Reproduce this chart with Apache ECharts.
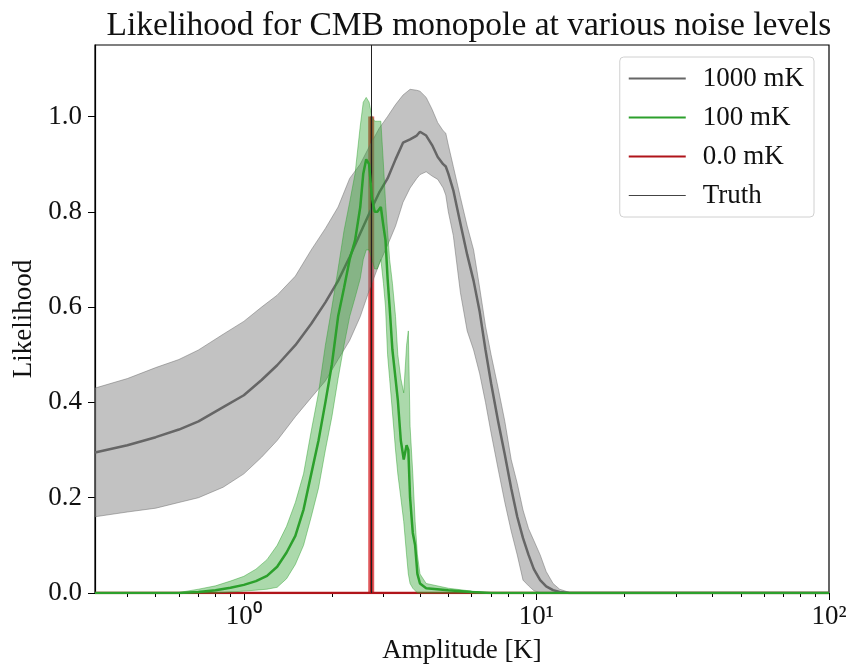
<!DOCTYPE html>
<html>
<head>
<meta charset="utf-8">
<script src="https://cdn.jsdelivr.net/npm/echarts@6/dist/echarts.min.js"></script>
<style>
  html, body { margin: 0; padding: 0; background: #fff; }
  #chart { width: 852px; height: 665px; }
</style>
</head>
<body>
<div id="chart"></div>
<script>
// amplitude grid [K] and likelihood curves
const grayX   = [0.31, 0.4, 0.5, 0.6, 0.7, 0.85, 1.0, 1.15, 1.3, 1.5, 1.7, 1.9, 2.1, 2.3, 2.5, 2.7, 2.9, 3.1, 3.3, 3.5, 3.7, 3.9, 4.0, 4.2, 4.4, 4.6, 4.8, 4.9, 5.0, 5.2, 5.5, 5.8, 6.1, 6.4, 6.7, 7.0, 7.4, 7.8, 8.2, 8.6, 9.0, 9.4, 9.8, 10.3, 10.8, 11.4, 12, 13, 20, 50, 100];
const grayMid = [0.295, 0.31, 0.327, 0.343, 0.36, 0.39, 0.415, 0.447, 0.478, 0.52, 0.565, 0.61, 0.655, 0.705, 0.755, 0.80, 0.84, 0.87, 0.91, 0.945, 0.952, 0.96, 0.968, 0.96, 0.94, 0.915, 0.90, 0.895, 0.88, 0.845, 0.775, 0.71, 0.655, 0.59, 0.51, 0.44, 0.36, 0.29, 0.22, 0.16, 0.115, 0.08, 0.05, 0.027, 0.014, 0.006, 0.002, 0, 0, 0, 0];
const grayLo  = [0.16, 0.17, 0.178, 0.19, 0.20, 0.222, 0.25, 0.285, 0.32, 0.37, 0.41, 0.445, 0.49, 0.53, 0.58, 0.64, 0.69, 0.73, 0.77, 0.82, 0.85, 0.87, 0.878, 0.884, 0.875, 0.868, 0.85, 0.835, 0.80, 0.75, 0.63, 0.55, 0.51, 0.46, 0.40, 0.336, 0.26, 0.19, 0.13, 0.08, 0.027, 0.015, 0.005, 0, 0, 0, 0, 0, 0, 0, 0];
const grayHi  = [0.43, 0.45, 0.473, 0.49, 0.51, 0.543, 0.57, 0.60, 0.625, 0.665, 0.72, 0.765, 0.81, 0.87, 0.90, 0.94, 0.975, 1.0, 1.025, 1.045, 1.057, 1.055, 1.053, 1.04, 1.015, 0.987, 0.97, 0.965, 0.94, 0.895, 0.83, 0.77, 0.72, 0.64, 0.56, 0.50, 0.43, 0.36, 0.28, 0.23, 0.174, 0.135, 0.11, 0.08, 0.045, 0.02, 0.008, 0.001, 0, 0, 0];

const greenX   = [0.31, 0.6, 0.7, 0.8, 0.9, 1.0, 1.1, 1.2, 1.3, 1.4, 1.5, 1.6, 1.7, 1.8, 1.9, 2.0, 2.1, 2.2, 2.3, 2.4, 2.5, 2.56, 2.62, 2.68, 2.74, 2.8, 2.86, 2.94, 3.0, 3.05, 3.1, 3.15, 3.22, 3.3, 3.36, 3.44, 3.52, 3.6, 3.65, 3.7, 3.78, 3.85, 3.92, 4.0, 4.2, 5.0, 6.0, 7.0, 100];
const greenMid = [0, 0, 0.002, 0.006, 0.011, 0.017, 0.025, 0.036, 0.055, 0.085, 0.12, 0.175, 0.25, 0.32, 0.40, 0.48, 0.58, 0.64, 0.70, 0.74, 0.81, 0.88, 0.91, 0.90, 0.83, 0.80, 0.80, 0.81, 0.77, 0.74, 0.66, 0.60, 0.51, 0.45, 0.405, 0.32, 0.28, 0.31, 0.30, 0.20, 0.126, 0.10, 0.04, 0.02, 0.01, 0.006, 0.002, 0, 0];
const greenLo  = [0, 0, 0, 0, 0.002, 0.004, 0.006, 0.008, 0.012, 0.03, 0.06, 0.10, 0.16, 0.22, 0.30, 0.37, 0.45, 0.52, 0.58, 0.62, 0.66, 0.70, 0.72, 0.72, 0.70, 0.68, 0.68, 0.70, 0.65, 0.60, 0.50, 0.45, 0.38, 0.30, 0.25, 0.20, 0.15, 0.08, 0.04, 0.02, 0.01, 0.005, 0, 0, 0, 0, 0, 0, 0];
const greenHi  = [0, 0.001, 0.008, 0.015, 0.025, 0.035, 0.05, 0.07, 0.10, 0.14, 0.19, 0.25, 0.34, 0.42, 0.52, 0.60, 0.68, 0.76, 0.82, 0.88, 0.98, 1.03, 1.04, 1.03, 1.0, 0.99, 0.99, 0.99, 0.90, 0.82, 0.76, 0.70, 0.65, 0.58, 0.50, 0.45, 0.42, 0.52, 0.55, 0.35, 0.25, 0.15, 0.08, 0.04, 0.02, 0.01, 0.004, 0, 0];

const redX = [0.31, 2.725, 2.725, 2.725, 100];
const redY = [0, 0, 1.0, 0, 0];

const truthValue = 2.725;
const xTicks = [1, 10, 100];
const yTicks = [0, 0.2, 0.4, 0.6, 0.8, 1.0];
const xMin = 0.31, xMax = 100;

const FONT = 'Liberation Serif';

let minorTicks = [];
[0.1, 1, 10].forEach(function (d) {
    for (let k = 2; k <= 9; k++) {
        const v = k * d;
        if (v > xMin && v < xMax) minorTicks.push(v);
    }
});

function pairs(xs, ys) {
    return xs.map(function (x, i) { return [x, ys[i]]; });
}

function band(name, xs, lo, hi, fill, stroke, z) {
    return {
        type: 'custom',
        name: name,
        silent: true,
        z: z,
        data: [[xs[0], lo[0]]],
        renderItem: function (params, api) {
            let pts = [];
            for (let i = 0; i < xs.length; i++) pts.push(api.coord([xs[i], hi[i]]));
            for (let i = xs.length - 1; i >= 0; i--) pts.push(api.coord([xs[i], lo[i]]));
            return {
                type: 'polygon',
                shape: { points: pts },
                style: { fill: fill, stroke: stroke, lineWidth: 1 }
            };
        }
    };
}

const supDigits = { 0: '\u2070', 1: '\u00b9', 2: '\u00b2' };

const myChart = echarts.init(document.getElementById('chart'));
const options = {
    animation: false,
    textStyle: { fontFamily: FONT, color: '#000' },
    title: {
        text: 'Likelihood for CMB monopole at various noise levels',
        left: 464,
        textAlign: 'center',
        top: 4,
        textStyle: { fontFamily: FONT, fontSize: 33.5, fontWeight: 'normal', color: '#111' }
    },
    grid: {
        left: 95, right: 23, top: 45, bottom: 72,
        outerBoundsMode: 'none',
        show: true, borderColor: '#000', borderWidth: 1.2
    },
    legend: {
        orient: 'vertical',
        right: 38,
        top: 57,
        padding: [8, 10, 8, 8],
        itemWidth: 57,
        itemHeight: 14,
        itemGap: 12,
        itemStyle: { opacity: 0 },
        backgroundColor: 'rgba(255,255,255,0.85)',
        borderColor: '#d0d0d0',
        borderWidth: 1,
        borderRadius: 4,
        textStyle: { fontFamily: FONT, fontSize: 27, color: '#111', padding: [0, 0, 0, 12] },
        data: ['1000 mK', '100 mK', '0.0 mK', { name: 'Truth', lineStyle: { width: 1 } }]
    },
    xAxis: [{
        type: 'log',
        logBase: 10,
        min: xMin,
        max: xMax,
        name: 'Amplitude [K]',
        nameLocation: 'middle',
        nameGap: 44,
        nameTextStyle: { fontFamily: FONT, fontSize: 27, color: '#111' },
        axisLine: { lineStyle: { color: '#000', width: 1.2 } },
        axisTick: { length: 7, customValues: xTicks, lineStyle: { color: '#000' } },
        axisLabel: {
            customValues: xTicks,
            margin: 10,
            color: '#111',
            formatter: function (v) {
                const e = Math.round(Math.log10(v));
                return '10' + supDigits[e];
            },
            fontFamily: FONT,
            fontSize: 27
        },
        splitLine: { show: false }
    }, {
        type: 'log',
        logBase: 10,
        min: xMin,
        max: xMax,
        position: 'bottom',
        axisLine: { show: false },
        axisTick: { length: 4, customValues: minorTicks, lineStyle: { color: '#000' } },
        axisLabel: { show: false },
        splitLine: { show: false }
    }],
    yAxis: {
        type: 'value',
        min: 0,
        max: 1.15,
        name: 'Likelihood',
        nameLocation: 'middle',
        nameGap: 54,
        nameTextStyle: { fontFamily: FONT, fontSize: 27, color: '#111' },
        axisLine: { show: true, lineStyle: { color: '#000', width: 1.2 } },
        axisTick: { show: true, length: 7, customValues: yTicks, lineStyle: { color: '#000' } },
        axisLabel: {
            customValues: yTicks,
            margin: 13,
            color: '#111',
            fontFamily: FONT,
            fontSize: 27,
            formatter: function (v) { return v.toFixed(1); }
        },
        splitLine: { show: false }
    },
    series: [
        {
            name: '0.0 mK band',
            type: 'line',
            z: 1,
            silent: true,
            symbol: 'none',
            data: pairs(redX.slice(1, 4), redY.slice(1, 4)),
            lineStyle: { color: 'rgba(214,39,40,0.75)', width: 6 }
        },
        {
            name: '0.0 mK',
            type: 'line',
            z: 1,
            symbol: 'none',
            data: pairs(redX, redY),
            lineStyle: { color: '#b0141a', width: 2.5 },
            itemStyle: { color: '#c0161c' }
        },
        band('1000 mK band', grayX, grayLo, grayHi, 'rgba(128,128,128,0.48)', 'rgba(110,110,110,0.5)', 2),
        {
            name: '1000 mK',
            type: 'line',
            z: 3,
            symbol: 'none',
            data: pairs(grayX, grayMid),
            lineStyle: { color: '#666666', width: 2.5 },
            itemStyle: { color: '#666666' }
        },
        band('100 mK band', greenX, greenLo, greenHi, 'rgba(44,160,44,0.4)', 'rgba(44,160,44,0.45)', 4),
        {
            name: '100 mK',
            type: 'line',
            z: 5,
            symbol: 'none',
            data: pairs(greenX, greenMid),
            lineStyle: { color: '#2ca02c', width: 2.5 },
            itemStyle: { color: '#2ca02c' }
        },
        {
            name: 'Truth',
            type: 'line',
            z: 6,
            symbol: 'none',
            data: [],
            lineStyle: { color: '#444', width: 1 },
            itemStyle: { color: '#444' },
            markLine: {
                silent: true,
                symbol: 'none',
                label: { show: false },
                lineStyle: { color: '#222', width: 1, type: 'solid' },
                data: [{ xAxis: truthValue }]
            }
        }
    ]
};
myChart.setOption(options);
window.addEventListener('resize', myChart.resize);
</script>
</body>
</html>
